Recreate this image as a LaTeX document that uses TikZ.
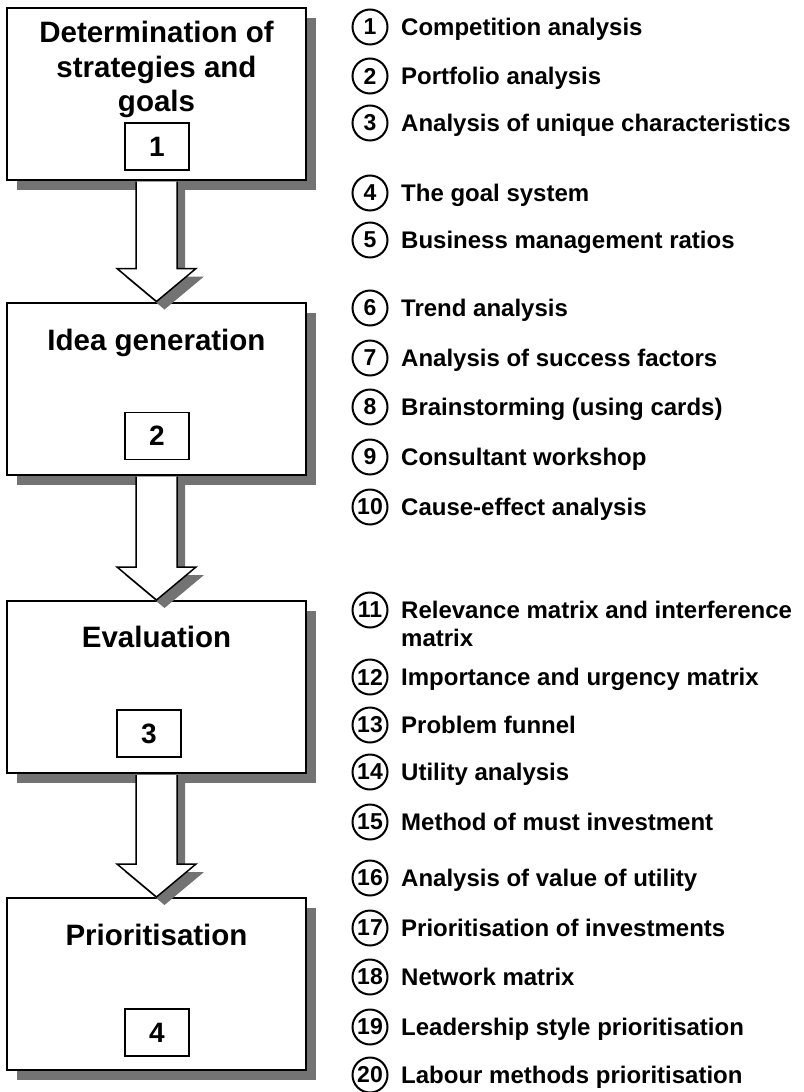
\documentclass[tikz,border=0pt]{standalone}
\usepackage{fontspec}
\setmainfont{Liberation Sans}
\usetikzlibrary{shadows,calc}
\begin{document}
\begin{tikzpicture}[x=1pt,y=-1pt,
  stage/.style={draw, line width=2pt, fill=white, minimum width=299pt,
    minimum height=172pt, inner sep=0pt,
    general shadow={fill=black!55, shadow xshift=10pt, shadow yshift=-10pt}},
  numbox/.style={draw, line width=1.5pt, fill=white, minimum width=64pt,
    minimum height=47pt, inner sep=0pt, font=\fontsize{28}{32}\selectfont\bfseries},
  title/.style={inner sep=0pt, align=center, font=\fontsize{29.5}{34.5}\selectfont\bfseries},
  flow/.style={draw, line width=1.5pt, fill=white, line join=miter,
    general shadow={fill=black!55, shadow xshift=8pt, shadow yshift=-8pt}},
  badge/.style={draw, circle, line width=2pt, minimum size=35pt, inner sep=0pt,
    font=\fontsize{23}{25}\selectfont\bfseries},
  itemtext/.style={inner sep=0pt, font=\fontsize{24}{28}\selectfont\bfseries, align=left}
]
\useasboundingbox (0,0) rectangle (803,1092);

% stage boxes
\node[stage] (b1) at (156.5, 93.5) {};
\node[stage] (b2) at (156.5, 388.5) {};
\node[stage] (b3) at (156.5, 687) {};
\node[stage] (b4) at (156.5, 984) {};

% stage titles
\node[title, anchor=north] (t1) at (156.5, 21) {Determination of\\strategies and\\goals};
\node[title, anchor=base] (t2) at (156.5, 350) {Idea generation};
\node[title, anchor=base] (t3) at (156.5, 647) {Evaluation};
\node[title, anchor=base] (t4) at (156.5, 945) {Prioritisation};

% stage numbers
\node[numbox] (n1) at (157, 146.5) {1};
\node[numbox] (n2) at (157, 436) {2};
\node[numbox] (n3) at (149, 733.5) {3};
\node[numbox] (n4) at (157, 1032.5) {4};

% block arrows between the stages
\foreach \a/\b in {b1/b2, b2/b3, b3/b4}{
  \path[flow] ($(\a.south)+(-20.5,1)$) -- ($(\b.north)+(-20.5,-33)$)
    -- ($(\b.north)+(-39.5,-33)$) -- (\b.north)
    -- ($(\b.north)+(39.5,-33)$) -- ($(\b.north)+(20.5,-33)$)
    -- ($(\a.south)+(20.5,1)$);
}

% list of methods
\foreach \n/\y/\t in {
  1/27/{Competition analysis},
  2/76/{Portfolio analysis},
  3/123/{Analysis of unique characteristics},
  4/193/{The goal system},
  5/240/{Business management ratios},
  6/308/{Trend analysis},
  7/358/{Analysis of success factors},
  8/407/{Brainstorming (using cards)},
  9/457/{Consultant workshop},
  10/507/{Cause-effect analysis},
  12/677/{Importance and urgency matrix},
  13/725/{Problem funnel},
  14/772/{Utility analysis},
  15/822/{Method of must investment},
  16/878/{Analysis of value of utility},
  17/928/{Prioritisation of investments},
  18/977/{Network matrix},
  19/1027/{Leadership style prioritisation},
  20/1075/{Labour methods prioritisation}}{
  \node[badge] (c\n) at (370, \y) {\n};
  \node[itemtext, anchor=base west] (l\n) at (401, \y+8.5) {\t};
}
\node[badge] (c11) at (370, 610) {11};
\node[itemtext, anchor=base west] (l11) at (401, 618.5) {Relevance matrix and interference};
\node[itemtext, anchor=base west] (l11b) at (401, 646.5) {matrix};

\end{tikzpicture}
\end{document}
